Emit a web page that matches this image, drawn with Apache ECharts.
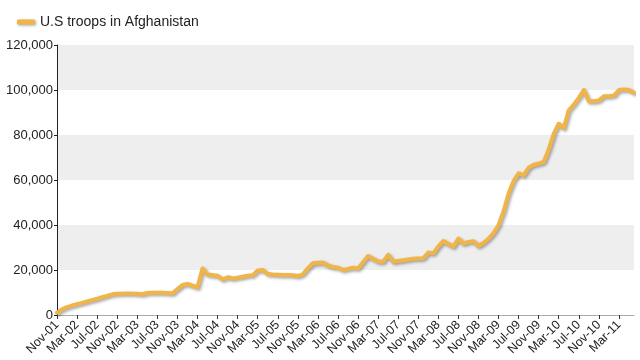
<!DOCTYPE html>
<html>
<head>
<meta charset="utf-8">
<script src="https://cdn.jsdelivr.net/npm/echarts@6/dist/echarts.min.js"></script>
<style>
html,body{margin:0;padding:0;background:#fff;}
#c{width:640px;height:360px;}
</style>
</head>
<body>
<div id="c"></div>
<script>
var seriesName = 'U.S troops in Afghanistan';
var monthNames = ['Jan','Feb','Mar','Apr','May','Jun','Jul','Aug','Sep','Oct','Nov','Dec'];
// Monthly categories Nov-01 .. Jun-11
var categories = [];
(function(){
  var m = 10, y = 2001;
  for (var i = 0; i < 116; i++) {
    categories.push(monthNames[m] + '-' + String(y % 100).padStart(2, '0'));
    m++; if (m > 11) { m = 0; y++; }
  }
})();
var troops = [
  1000, 2500, 3500, 4200, 4800, 5400, 6000, 6600, 7200, 7900,
  8500, 9200, 9400, 9500, 9600, 9500, 9400, 9200, 9800, 9900,
  9900, 9900, 9800, 9600, 11500, 13300, 13800, 13000, 12300, 20700,
  18000, 17700, 17400, 15800, 16800, 16200, 16600, 17000, 17500, 17700,
  19800, 20000, 18200, 18000, 17900, 17800, 17800, 17700, 17300, 18100,
  20700, 23000, 23200, 23300, 22000, 21300, 21000, 20000, 20500, 21000,
  20700, 23500, 26200, 25000, 23800, 23700, 26700, 23700, 24000, 24300,
  24700, 25000, 25100, 25200, 27800, 27400, 30500, 32900, 31500, 30500,
  34000, 31700, 32500, 32800, 30700, 32000, 33900, 36400, 40000, 46000,
  54000, 59500, 63000, 62000, 65500, 66800, 67300, 68000, 73500, 80500,
  85000, 83000, 91000, 93500, 96500, 100000, 95000, 95000, 95300, 97200,
  97200, 97500, 100000, 100200, 100000, 98800
];
var yMin = 0, yMax = 120000, yStep = 20000;

var chart = echarts.init(document.getElementById('c'), null, {renderer: 'canvas'});
chart.setOption({
  animation: false,
  backgroundColor: '#ffffff',
  textStyle: {fontFamily: 'Liberation Sans, Arial, sans-serif'},
  legend: {
    left: 12, top: 10,
    itemWidth: 18, itemHeight: 5, itemGap: 7,
    icon: 'roundRect',
    textStyle: {fontSize: 14, color: '#222', fontFamily: 'Liberation Sans, Arial, sans-serif'},
    data: [{name: seriesName, itemStyle: {color: '#f0b447', shadowColor: 'rgba(0,0,0,0.35)', shadowBlur: 3, shadowOffsetX: 1, shadowOffsetY: 1}}]
  },
  grid: {left: 57, right: 6, top: 45, bottom: 45, containLabel: false},
  xAxis: {
    type: 'category',
    data: categories,
    boundaryGap: false,
    axisLine: {lineStyle: {color: '#aaaaaa', width: 1}},
    axisTick: {interval: 3, length: 4, lineStyle: {color: '#333'}},
    axisLabel: {interval: 3, rotate: 45, fontSize: 12.5, color: '#222', margin: 8,
      fontFamily: 'Liberation Sans, Arial, sans-serif'},
    splitLine: {show: false}
  },
  yAxis: {
    type: 'value',
    min: yMin, max: yMax, interval: yStep,
    axisLine: {show: true, lineStyle: {color: '#222', width: 1}},
    axisTick: {show: true, length: 3, lineStyle: {color: '#222'}},
    axisLabel: {fontSize: 13, color: '#222', margin: 4,
      fontFamily: 'Liberation Sans, Arial, sans-serif',
      formatter: function(v){ return v.toLocaleString('en-US'); }},
    splitLine: {show: false},
    splitArea: {show: true, areaStyle: {color: ['#ffffff', '#eeeeee']}}
  },
  series: [{
    name: seriesName,
    type: 'line',
    data: troops,
    showSymbol: false,
    symbol: 'none',
    smooth: false,
    lineStyle: {color: '#f0b447', width: 4, join: 'round', cap: 'round',
      shadowColor: 'rgba(0,0,0,0.35)', shadowBlur: 3, shadowOffsetX: 1.5, shadowOffsetY: 1.5},
    itemStyle: {color: '#f0b447'}
  }]
});
</script>
</body>
</html>
